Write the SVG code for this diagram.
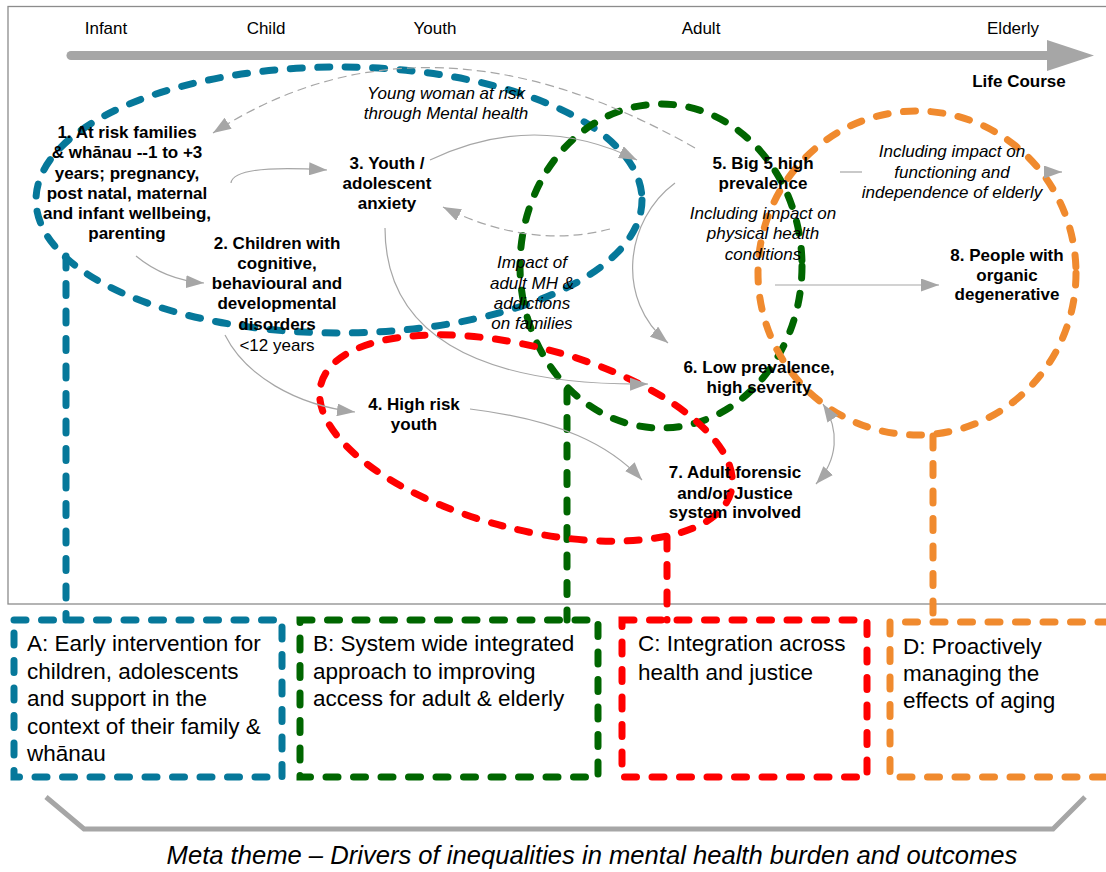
<svg xmlns="http://www.w3.org/2000/svg" width="1106" height="872" viewBox="0 0 1106 872">
<style>
.t{font-family:"Liberation Sans",Arial,sans-serif;font-size:17px;fill:#000;text-anchor:middle}
.b{font-weight:bold}
.i{font-style:italic}
.bx{font-family:"Liberation Sans",Arial,sans-serif;font-size:22.5px;fill:#000}
.c{fill:none;stroke:#A6A6A6;stroke-width:1.2}
.cd{stroke-dasharray:9 5}
.d{fill:none;stroke-width:7;stroke-linecap:round;stroke-dasharray:12 15.5}
.teal{stroke:#06789A}
.green{stroke:#006600}
.red{stroke:#FF0000}
.orange{stroke:#F08A2E}
</style>
<defs>
<marker id="ah" markerUnits="userSpaceOnUse" markerWidth="18" markerHeight="13" refX="18" refY="6.5" orient="auto">
<path d="M0,0 L18,6.5 L0,13 z" fill="#A6A6A6"/>
</marker>
<marker id="ahs" markerUnits="userSpaceOnUse" markerWidth="18" markerHeight="13" refX="0" refY="6.5" orient="auto">
<path d="M18,0 L0,6.5 L18,13 z" fill="#A6A6A6"/>
</marker>
</defs>
<rect width="1106" height="872" fill="#fff"/>
<g id="frame">
<rect x="8" y="6.5" width="1110" height="597.5" fill="none" stroke="#8C8C8C" stroke-width="1.3"/>
</g>
<g id="life-course">
<line x1="71" y1="55.5" x2="1050" y2="55.5" stroke="#A6A6A6" stroke-width="9" stroke-linecap="round"/>
<polygon points="1047,40 1094,55.5 1047,71" fill="#A6A6A6"/>
<text class="t" x="106" y="34">Infant</text>
<text class="t" x="266" y="34">Child</text>
<text class="t" x="435" y="34">Youth</text>
<text class="t" x="701" y="34">Adult</text>
<text class="t" x="1013" y="34">Elderly</text>
<text class="t b" x="1019" y="87">Life Course</text>
</g>
<g id="regions">
<g id="region-teal">
<ellipse class="d teal" cx="339" cy="200" rx="303" ry="133"/>
<path class="d teal" d="M66,256 V620"/>
</g>
<g id="region-green">
<ellipse class="d green" cx="661" cy="266" rx="141" ry="162"/>
<path class="d green" d="M567,390 V620"/>
</g>
<g id="region-red">
<ellipse class="d red" cx="526" cy="438" rx="212" ry="91" transform="rotate(14.7 526 438)"/>
<path class="d red" d="M667,537 V620"/>
</g>
<g id="region-orange">
<ellipse class="d orange" cx="917" cy="273" rx="159" ry="162"/>
<path class="d orange" d="M933,436 V622"/>
</g>
</g>
<g id="connectors">
<path class="c cd" d="M695,148 Q426,-5 213,133" marker-end="url(#ah)"/>
<path class="c" d="M231,183 C233,168 280,167 327,170" marker-end="url(#ah)"/>
<path class="c" d="M136,256 Q165,280 204,283" marker-end="url(#ah)"/>
<path class="c" d="M385,228 C385,330 470,386 648,384" marker-end="url(#ah)"/>
<path class="c" d="M225,335 C245,375 295,405 355,412" marker-end="url(#ah)"/>
<path class="c" d="M470,409 C560,420 610,445 642,480" marker-end="url(#ah)"/>
<path class="c" d="M430,160 Q535,110 637,160" marker-end="url(#ah)"/>
<path class="c cd" d="M610,229 Q530,250 443,207" marker-end="url(#ah)"/>
<path class="c" d="M675,183 C625,220 615,300 668,343" marker-end="url(#ah)"/>
<path class="c" d="M840,172 H862"/>
<path class="c" d="M1046,172 H1062" marker-end="url(#ah)"/>
<path class="c" d="M775,285 H939" marker-end="url(#ah)"/>
<path class="c" d="M823,404 C840,430 838,460 816,484" marker-start="url(#ahs)" marker-end="url(#ah)"/>
</g>
<g id="node1">
<text class="t b" x="127" y="138">1. At risk families</text>
<text class="t b" x="127" y="158">&amp; whānau --1 to +3</text>
<text class="t b" x="127" y="179">years; pregnancy,</text>
<text class="t b" x="127" y="199">post natal, maternal</text>
<text class="t b" x="127" y="219">and infant wellbeing,</text>
<text class="t b" x="127" y="239">parenting</text>
</g>
<g id="node2">
<text class="t b" x="277" y="249">2. Children with</text>
<text class="t b" x="277" y="269">cognitive,</text>
<text class="t b" x="277" y="289">behavioural and</text>
<text class="t b" x="277" y="309">developmental</text>
<text class="t b" x="277" y="330">disorders</text>
<text class="t" x="277" y="351">&lt;12 years</text>
</g>
<g id="node3">
<text class="t b" x="387" y="169">3. Youth /</text>
<text class="t b" x="387" y="189">adolescent</text>
<text class="t b" x="387" y="209">anxiety</text>
</g>
<g id="label-young-woman">
<text class="t i" x="446" y="99">Young woman at risk</text>
<text class="t i" x="446" y="119">through Mental health</text>
</g>
<g id="node4">
<text class="t b" x="414" y="410">4. High risk</text>
<text class="t b" x="414" y="430">youth</text>
</g>
<g id="node5">
<text class="t b" x="763" y="169">5. Big 5 high</text>
<text class="t b" x="763" y="189">prevalence</text>
<text class="t i" x="763" y="219">Including impact on</text>
<text class="t i" x="763" y="239">physical health</text>
<text class="t i" x="763" y="260">conditions</text>
</g>
<g id="label-impact">
<text class="t i" x="532" y="268">Impact of</text>
<text class="t i" x="532" y="289">adult MH &amp;</text>
<text class="t i" x="532" y="309">addictions</text>
<text class="t i" x="532" y="329">on families</text>
</g>
<g id="label-elderly">
<text class="t i" x="952" y="157">Including impact on</text>
<text class="t i" x="952" y="178">functioning and</text>
<text class="t i" x="952" y="198">independence of elderly</text>
</g>
<g id="node6">
<text class="t b" x="759" y="373">6. Low prevalence,</text>
<text class="t b" x="759" y="393">high severity</text>
</g>
<g id="node7">
<text class="t b" x="735" y="478">7. Adult forensic</text>
<text class="t b" x="735" y="499">and/or Justice</text>
<text class="t b" x="735" y="518">system involved</text>
</g>
<g id="node8">
<text class="t b" x="1007" y="261">8. People with</text>
<text class="t b" x="1007" y="281">organic</text>
<text class="t b" x="1007" y="300">degenerative</text>
</g>
<g id="boxA">
<rect class="d teal" x="14" y="620" width="268" height="157"/>
<text class="bx" x="27" y="651">A: Early intervention for</text>
<text class="bx" x="27" y="679">children, adolescents</text>
<text class="bx" x="27" y="706">and support in the</text>
<text class="bx" x="27" y="734">context of their family &amp;</text>
<text class="bx" x="27" y="761">whānau</text>
</g>
<g id="boxB">
<rect class="d green" x="300" y="620" width="298" height="157"/>
<text class="bx" x="313" y="651">B: System wide integrated</text>
<text class="bx" x="313" y="679">approach to improving</text>
<text class="bx" x="313" y="706">access for adult &amp; elderly</text>
</g>
<g id="boxC">
<rect class="d red" x="622" y="620" width="245" height="157"/>
<text class="bx" x="638" y="651">C: Integration across</text>
<text class="bx" x="638" y="680">health and justice</text>
</g>
<g id="boxD">
<path class="d orange" d="M1110,622 H890 V777 H1110"/>
<text class="bx" x="903" y="654">D: Proactively</text>
<text class="bx" x="903" y="681">managing the</text>
<text class="bx" x="903" y="708">effects of aging</text>
</g>
<g id="meta">
<path d="M46,797 L84,829 L1053,829 L1085,797" fill="none" stroke="#A6A6A6" stroke-width="5"/>
<text class="t i" x="592" y="864" style="font-size:25.6px">Meta theme – Drivers of inequalities in mental health burden and outcomes</text>
</g>
</svg>
